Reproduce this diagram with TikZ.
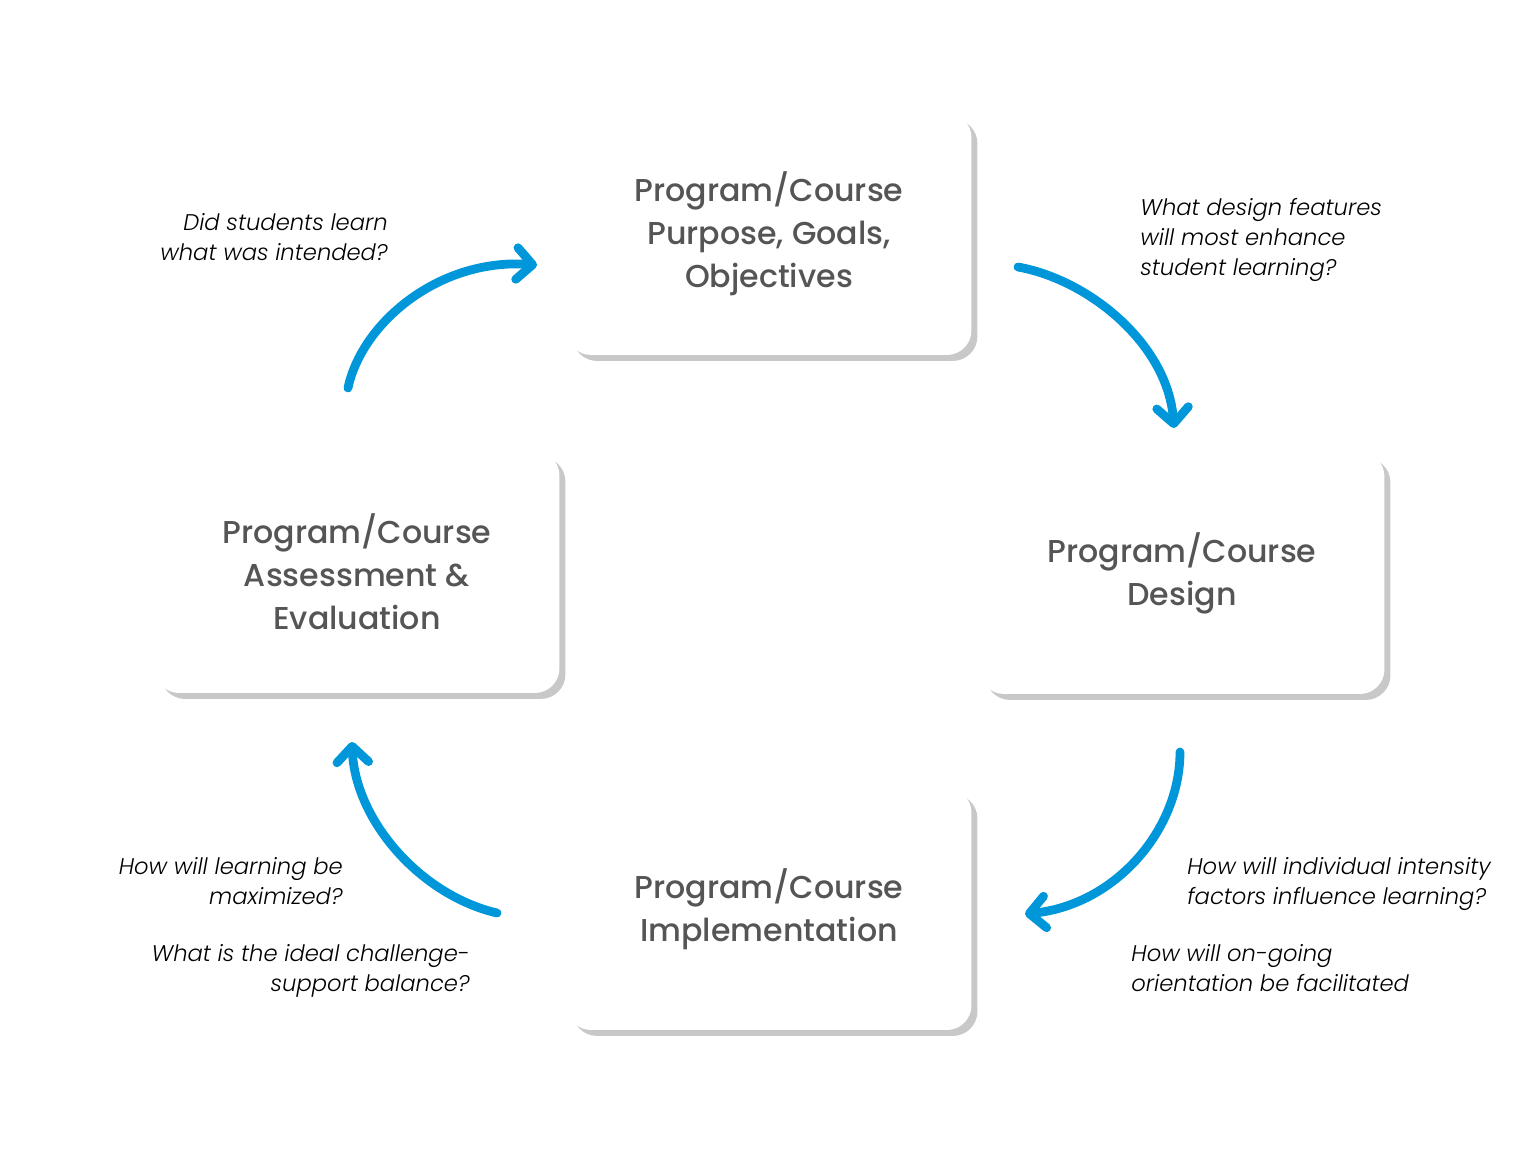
\documentclass[tikz,border=0pt]{standalone}
\usepackage{fontspec}
\setmainfont{Poppins}
\newfontfamily\stagefont{Poppins Medium}
\newfontfamily\questionfont{Poppins Light}
\usepackage{xcolor}
\usetikzlibrary{arrows.meta,shadows,positioning}
\definecolor{flowblue}{HTML}{0096DA}
\definecolor{boxtext}{HTML}{555555}
\definecolor{shadowgray}{HTML}{C8C8C8}

\begin{document}
\begin{tikzpicture}[x=0.02cm,y=-0.02cm,
stage/.style={rounded corners=14pt,fill=white,minimum width=8.1cm,minimum height=4.84cm,align=center,text=boxtext,
  font=\stagefont\fontsize{18}{24.4}\selectfont,drop shadow={shadow xshift=3.4pt,shadow yshift=-3.4pt,fill=shadowgray,opacity=1}},
question/.style={inner sep=0pt,font=\questionfont\fontsize{12.9}{17}\selectfont\itshape},
flow/.style={flowblue,line width=5pt,line cap=round,-{Straight Barb[length=9pt,width=18pt,round]}}]
\useasboundingbox (0,0) rectangle (1536,1152);
\node[stage] (P) at (769,234) {Program/Course\\Purpose, Goals,\\Objectives};
\node[stage] (D) at (1182,573) {Program/Course\\Design};
\node[stage] (E) at (357,572) {Program/Course\\Assessment \&\\Evaluation};
\node[stage] (I) at (769,909) {Program/Course\\Implementation};
\node[question,anchor=east,align=right] (qE) at (388,237) {Did students learn\\what was intended?};
\node[question,anchor=west,align=left] (qP) at (1140,240) {What design features\\will most enhance\\student learning?};
\node[question,anchor=west,align=left] (qD1) at (1187,884) {How will individual intensity\\factors influence learning?};
\node[question,anchor=west,align=left] (qD2) at (1131,968) {How will on-going\\orientation be facilitated};
\node[question,anchor=east,align=right] (qI1) at (343,881) {How will learning be\\maximized?};
\node[question,anchor=east,align=right] (qI2) at (470,971) {What is the ideal challenge-\\support balance?};
\coordinate (e1) at (348,388);
\coordinate (e2) at (537,265);
\coordinate (p1) at (1018,267);
\coordinate (p2) at (1174,428);
\coordinate (d1) at (1180,752);
\coordinate (d2) at (1025,914);
\coordinate (i1) at (497,913);
\coordinate (i2) at (352,742);
\draw[flow] (e1) .. controls (362,322) and (440,258) .. (e2);
\draw[flow] (p1) .. controls (1090,280) and (1168,345) .. (p2);
\draw[flow] (d1) .. controls (1180,830) and (1115,905) .. (d2);
\draw[flow] (i1) .. controls (420,895) and (355,820) .. (i2);
\end{tikzpicture}
\end{document}
